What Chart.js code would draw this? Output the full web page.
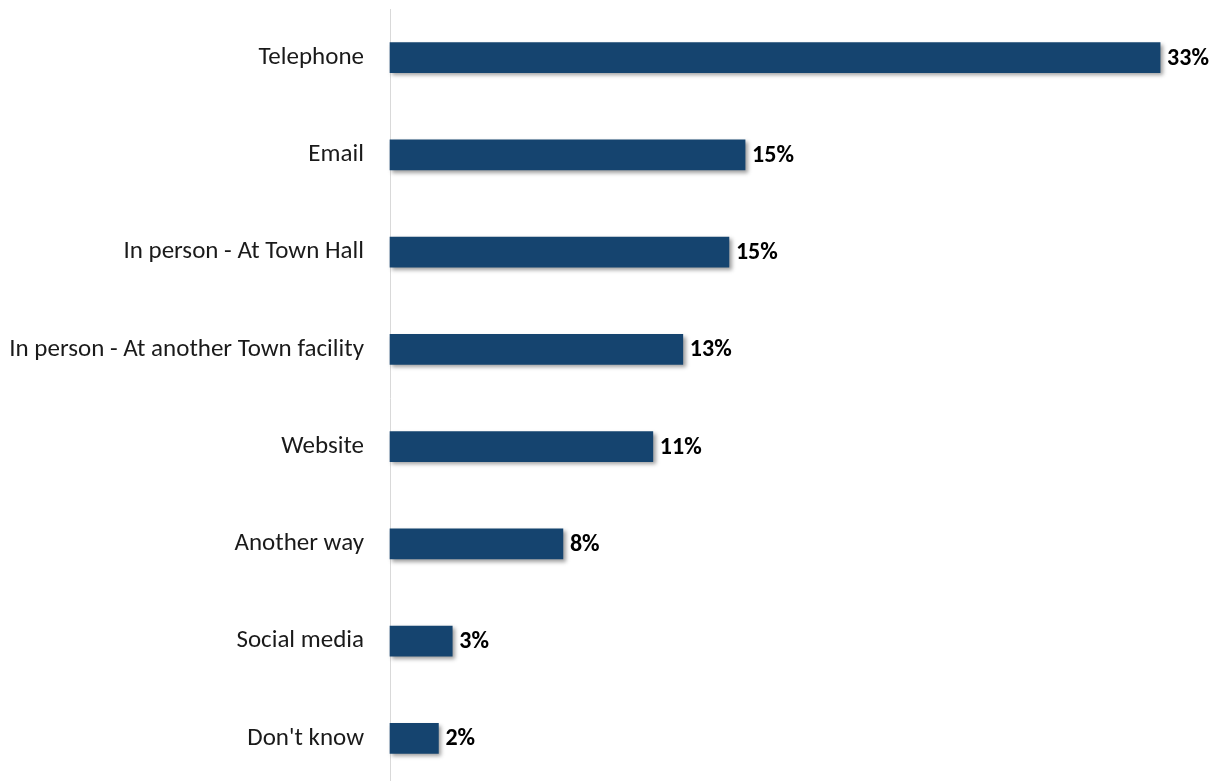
<!DOCTYPE html>
<html>
<head>
<meta charset="utf-8">
<script src="https://cdn.jsdelivr.net/npm/chart.js@4.4.1/dist/chart.umd.min.js"></script>
<style>
  html, body { margin: 0; padding: 0; background: #fff; overflow: hidden; }
  .chart-wrap { position: relative; width: 1213px; height: 790px; }
</style>
</head>
<body>
<div class="chart-wrap">
  <canvas id="contact-canvas"></canvas>
</div>
<script>
// Ways residents contacted the Town
const categories = [
  'Telephone',
  'Email',
  'In person - At Town Hall',
  'In person - At another Town facility',
  'Website',
  'Another way',
  'Social media',
  "Don't know",
];
const shares = [33.4, 15.4, 14.7, 12.7, 11.4, 7.5, 2.7, 2.1];

const BAR_COLOR = '#15446F';
const FONT_FAMILY = 'Calibri, Carlito, Lato, "Open Sans", sans-serif';

// soft drop shadow under the bars
const barShadow = {
  id: 'barShadow',
  beforeDatasetsDraw(chart) {
    const ctx = chart.ctx;
    ctx.save();
    ctx.shadowColor = 'rgba(0,0,0,0.38)';
    ctx.shadowOffsetX = 2.5;
    ctx.shadowOffsetY = 2.5;
    ctx.shadowBlur = 4;
  },
  afterDatasetsDraw(chart) {
    chart.ctx.restore();
  }
};

// percentage labels at the bar ends
const valueLabels = {
  id: 'valueLabels',
  afterDraw(chart) {
    const ctx = chart.ctx;
    const meta = chart.getDatasetMeta(0);
    ctx.save();
    ctx.font = `bold 24px ${FONT_FAMILY}`;
    ctx.fillStyle = '#000';
    ctx.textAlign = 'left';
    ctx.textBaseline = 'middle';
    meta.data.forEach((bar, i) => {
      ctx.fillText(`${Math.round(shares[i])}%`, bar.x + 7, bar.y + 1);
    });
    ctx.restore();
  }
};

new Chart(document.getElementById('contact-canvas'), {
  type: 'bar',
  data: {
    labels: categories,
    datasets: [{
      data: shares,
      backgroundColor: BAR_COLOR,
      borderWidth: 0,
      barThickness: 30,
      clip: false,
    }]
  },
  options: {
    indexAxis: 'y',
    responsive: true,
    maintainAspectRatio: false,
    animation: false,
    layout: { padding: { top: 9, right: 16, bottom: 3, left: 0 } },
    plugins: {
      legend: { display: false },
      tooltip: { enabled: false },
    },
    scales: {
      x: {
        display: false,
        min: 0,
        max: 35,
      },
      y: {
        // fixed axis width; label padding must not push the plot inward
        afterFit: (scale) => {
          scale.width = 390;
          scale.paddingTop = 0;
          scale.paddingBottom = 0;
        },
        grid: { drawOnChartArea: false, drawTicks: false },
        border: { display: true, color: '#d9d9d9', width: 1 },
        ticks: {
          color: '#1a1a1a',
          padding: 26,
          font: { family: FONT_FAMILY, size: 25 },
        },
      }
    }
  },
  plugins: [barShadow, valueLabels]
});
</script>
</body>
</html>
